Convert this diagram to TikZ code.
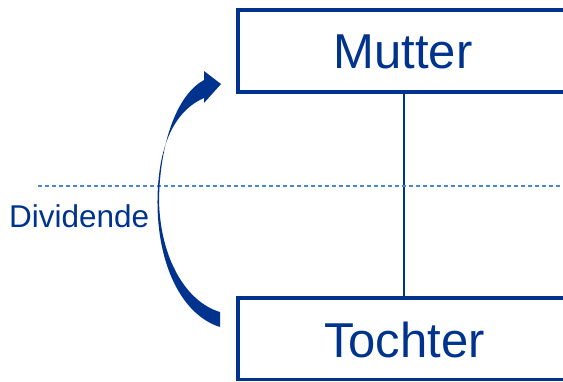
\documentclass[tikz,border=0pt]{standalone}
\usepackage{fontspec}
\setmainfont{Liberation Sans}
\definecolor{navy}{RGB}{0,51,141}
\definecolor{lightblue}{RGB}{74,134,204}
\tikzset{
  boxstyle/.style={draw=navy, line width=3.3pt},
  lbl/.style={text=navy, inner sep=0pt},
  linkline/.style={draw=navy, line width=1.8pt},
  dashline/.style={draw=lightblue, line width=1.2pt, dash pattern=on 4pt off 3pt}
}
\begin{document}
\begin{tikzpicture}[x=1pt, y=-1pt]
\useasboundingbox (0,0) rectangle (563,381);
% boxes
\draw[boxstyle] (238,10) rectangle (572,92);
\draw[boxstyle] (238,298) rectangle (572,379.5);
\coordinate (mb) at (404,92);
\coordinate (tt) at (404,298);
\draw[linkline] (mb) -- (tt);
\node[lbl, font=\fontsize{49}{49}\selectfont, anchor=center] (mutter) at (403,52) {Mutter};
\node[lbl, font=\fontsize{49}{49}\selectfont, anchor=center] (tochter) at (404.5,340) {Tochter};
% dashed line
\coordinate (dl) at (38,186);
\coordinate (dr) at (563,186);
\draw[dashline] (dl) -- (dr);
\node[lbl, font=\fontsize{31.5}{31.5}\selectfont, anchor=west] (div) at (9,216) {Dividende};
% curved tapered arrow
\fill[navy] (220,327)
  .. controls (182,315) and (157,265) .. (157.5,200)
  .. controls (158,150) and (172,112) .. (204,98)
  -- (204,103) -- (221,84) -- (204,71) -- (204,80)
  .. controls (178,94) and (160,140) .. (159,200)
  .. controls (160,258) and (186,302) .. (220,312) -- cycle;
\end{tikzpicture}
\end{document}
